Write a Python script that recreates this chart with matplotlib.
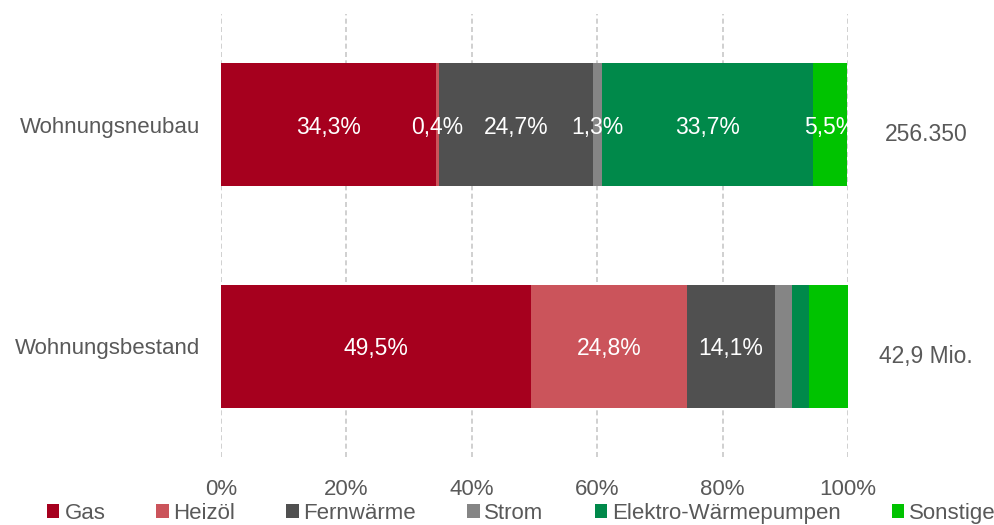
import matplotlib.pyplot as plt
from matplotlib.patches import Patch

categories = ["Wohnungsbestand", "Wohnungsneubau"]
totals = ["42,9 Mio.", "256.350"]
sources = ["Gas", "Heizöl", "Fernwärme", "Strom", "Elektro-Wärmepumpen", "Sonstige"]
# shares in percent, one list per source: [Bestand, Neubau]
gas = [49.5, 34.3]
heizoel = [24.8, 0.4]
fernwaerme = [14.1, 24.7]
strom = [2.6, 1.3]
waermepumpen = [2.8, 33.7]
sonstige = [6.2, 5.5]
# which segments get a value label: [Bestand, Neubau]
show_label = [
    [True, True],
    [True, True],
    [True, True],
    [False, True],
    [False, True],
    [False, True],
]

colors = ["#A6001E", "#CB545B", "#505050", "#858585", "#00894A", "#00C300"]
grey = "#595959"
plt.rcParams["font.family"] = ["Liberation Sans", "DejaVu Sans"]

fig = plt.figure(figsize=(9.95, 5.25), dpi=100)
ax = fig.add_axes([221 / 995, 1 - 457 / 525, 627 / 995, 443 / 525])

series = [gas, heizoel, fernwaerme, strom, waermepumpen, sonstige]
left = [0.0, 0.0]
ypos = [0, 1]
for vals, col, lab, flags in zip(series, colors, sources, show_label):
    ax.barh(ypos, vals, left=left, height=0.554, color=col, label=lab, zorder=3)
    for y, v, l, f in zip(ypos, vals, left, flags):
        if f:
            ax.text(l + v / 2, y - 0.012, f"{v:.1f}%".replace(".", ","), ha="center",
                    va="center", color="white", fontsize=16.5, zorder=4)
    left = [l + v for l, v in zip(left, vals)]

for y, t in zip(ypos, totals):
    ax.text(112.5, y - 0.045, t, ha="center", va="center", color=grey, fontsize=16.5,
            clip_on=False)

ax.set_xlim(0, 100)
ax.set_ylim(-0.5, 1.5)
ax.set_xticks(range(0, 101, 20))
ax.set_xticklabels([f"{v}%" for v in range(0, 101, 20)])
ax.set_yticks(ypos)
ax.set_yticklabels(categories)
ax.tick_params(axis="both", length=0, colors=grey, labelsize=16)
ax.tick_params(axis="x", pad=16)
ax.tick_params(axis="y", pad=15)
for s in ax.spines.values():
    s.set_visible(False)
ax.grid(axis="x", color="#C8C8C8", linestyle=(0, (3, 2)), linewidth=1.2, zorder=0)

handles = [Patch(facecolor=c, edgecolor="none") for c in colors]
leg = fig.legend(handles, sources, loc="lower center", bbox_to_anchor=(0.524, -0.024),
                 ncol=6, frameon=False, fontsize=16, handlelength=0.55, handleheight=0.55,
                 handletextpad=0.22, columnspacing=2.3, borderpad=0.12, labelcolor=grey)

fig.savefig("out.png", dpi=100)
